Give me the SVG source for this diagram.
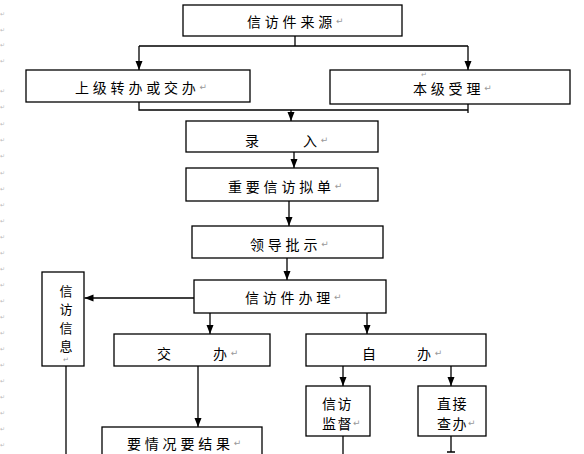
<svg xmlns="http://www.w3.org/2000/svg" width="584" height="454" viewBox="0 0 584 454">
<style>
.box{fill:#fff;stroke:#000;stroke-width:1.3}
.t{font-family:"Noto Sans CJK SC","Noto Sans CJK JP",sans-serif;font-size:14px;fill:#000;letter-spacing:3.8px;dominant-baseline:central}
.v{font-family:"Noto Sans CJK SC","Noto Sans CJK JP",sans-serif;font-size:13px;fill:#000;dominant-baseline:central;text-anchor:middle}
.p{font-family:"DejaVu Sans",sans-serif;font-size:9px;fill:#999;letter-spacing:0;dominant-baseline:central}
.c{fill:none;stroke:#000;stroke-width:1.3}
.m{font-family:"DejaVu Sans",sans-serif;font-size:6px;fill:#bbb}
</style>
<defs>
<marker id="ah" markerUnits="userSpaceOnUse" markerWidth="10" markerHeight="10" refX="9" refY="3.5" orient="auto">
<path d="M0,0 L9,3.5 L0,7 z" fill="#000"/>
</marker>
</defs>
<rect width="584" height="454" fill="#fff"/>
<g id="margin">
<text class="m" x="0" y="16">↵</text><text class="m" x="0" y="32">↵</text><text class="m" x="0" y="47">↵</text><text class="m" x="0" y="63">↵</text>
<text class="m" x="0" y="93">↵</text><text class="m" x="0" y="109">↵</text><text class="m" x="0" y="126">↵</text><text class="m" x="0" y="142">↵</text><text class="m" x="0" y="158">↵</text><text class="m" x="0" y="175">↵</text><text class="m" x="0" y="191">↵</text><text class="m" x="0" y="207">↵</text><text class="m" x="0" y="223">↵</text><text class="m" x="0" y="239">↵</text><text class="m" x="0" y="255">↵</text><text class="m" x="0" y="271">↵</text><text class="m" x="0" y="287">↵</text><text class="m" x="0" y="303">↵</text><text class="m" x="0" y="319">↵</text><text class="m" x="0" y="335">↵</text><text class="m" x="0" y="351">↵</text><text class="m" x="0" y="367">↵</text><text class="m" x="0" y="383">↵</text><text class="m" x="0" y="399">↵</text><text class="m" x="0" y="415">↵</text><text class="m" x="0" y="431">↵</text><text class="m" x="0" y="447">↵</text>
</g>
<g id="connectors">
<path class="c" d="M295,36 V46 M139,46 H468"/>
<path class="c" d="M139,46 V70" marker-end="url(#ah)"/>
<path class="c" d="M468,46 V70" marker-end="url(#ah)"/>
<path class="c" d="M139,102 V110 H468 M468,104 V113"/>
<path class="c" d="M291,110 V121" marker-end="url(#ah)"/>
<path class="c" d="M294,152 V168" marker-end="url(#ah)"/>
<path class="c" d="M289,201 V226" marker-end="url(#ah)"/>
<path class="c" d="M287,258 V280" marker-end="url(#ah)"/>
<path class="c" d="M194,298 H84.5" marker-end="url(#ah)"/>
<path class="c" d="M210,313 V334" marker-end="url(#ah)"/>
<path class="c" d="M367,313 V334" marker-end="url(#ah)"/>
<path class="c" d="M198,366 V427" marker-end="url(#ah)"/>
<path class="c" d="M343,366 V386" marker-end="url(#ah)"/>
<path class="c" d="M451,366 V386" marker-end="url(#ah)"/>
<path class="c" d="M66,366 V454"/>
<path class="c" d="M343,436 V454 M451,436 V452 M447,452 H455"/>
</g>
<g id="n-source"><rect class="box" x="183" y="5" width="219" height="31"/><text class="t" x="247" y="21">信访件来源<tspan class="p">↵</tspan></text></g>
<g id="n-upper"><rect class="box" x="26" y="70" width="224" height="32"/><text class="t" x="75" y="87">上级转办或交办<tspan class="p">↵</tspan></text></g>
<g id="n-local"><rect class="box" x="330" y="70" width="240" height="34"/><text class="p" x="421" y="75" style="font-size:7px">↵</text><text class="t" x="413" y="88">本级受理<tspan class="p">↵</tspan></text></g>
<g id="n-record"><rect class="box" x="186" y="121" width="192" height="31"/><text class="t" x="245" y="140">录</text><text class="t" x="303" y="140">入<tspan class="p">↵</tspan></text></g>
<g id="n-draft"><rect class="box" x="186" y="168" width="192" height="33"/><text class="t" x="228" y="186">重要信访拟单<tspan class="p">↵</tspan></text></g>
<g id="n-leader"><rect class="box" x="192" y="226" width="191" height="32"/><text class="t" x="250" y="244">领导批示<tspan class="p">↵</tspan></text></g>
<g id="n-handle"><rect class="box" x="194" y="280" width="192" height="33"/><text class="t" x="245" y="297">信访件办理<tspan class="p">↵</tspan></text></g>
<g id="n-info"><rect class="box" x="42" y="272" width="42" height="94"/>
<text class="v" x="66" y="290">信</text><text class="v" x="66" y="308.5">访</text><text class="v" x="66" y="327">信</text><text class="v" x="66" y="345.5">息</text><text class="p" x="63" y="360" style="font-size:7px">↵</text></g>
<g id="n-assign"><rect class="box" x="114" y="334" width="156" height="32"/><text class="t" x="157" y="353">交</text><text class="t" x="213" y="353">办<tspan class="p">↵</tspan></text></g>
<g id="n-self"><rect class="box" x="306" y="334" width="180" height="32"/><text class="t" x="362" y="353">自</text><text class="t" x="417" y="353">办<tspan class="p">↵</tspan></text></g>
<g id="n-supervise"><rect class="box" x="306" y="386" width="64" height="50"/><text class="t" x="322" y="403" style="letter-spacing:1.5px">信访</text><text class="t" x="322" y="423" style="letter-spacing:1.5px">监督<tspan class="p">↵</tspan></text></g>
<g id="n-direct"><rect class="box" x="418" y="386" width="68" height="50"/><text class="t" x="437" y="403" style="letter-spacing:1.5px">直接</text><text class="t" x="437" y="423" style="letter-spacing:1.5px">查办<tspan class="p">↵</tspan></text></g>
<g id="n-result"><rect class="box" x="102" y="427" width="160" height="40"/><text class="t" x="127" y="443">要情况要结果<tspan class="p">↵</tspan></text></g>
</svg>
